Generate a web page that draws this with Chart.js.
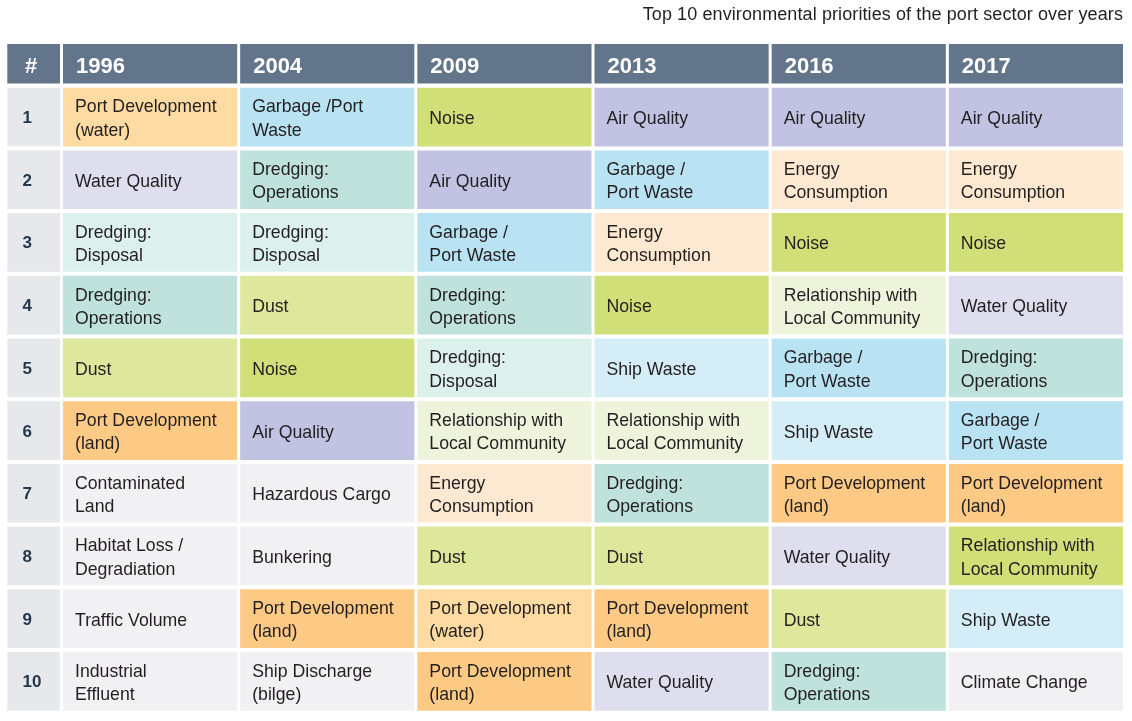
<!DOCTYPE html>
<html>
<head>
<meta charset="utf-8">
<script src="https://cdn.jsdelivr.net/npm/chart.js@4.4.1/dist/chart.umd.min.js"></script>
<style>
  html, body { margin: 0; padding: 0; background: #ffffff; }
  #wrap { width: 1132px; height: 721px; position: relative; }
</style>
</head>
<body>
<div id="wrap"><canvas id="chart" width="1132" height="721"></canvas></div>
<script>
// ---------- data ----------
const chartTitle = 'Top 10 environmental priorities of the port sector over years';
const rankHeader = '#';
const years = ['1996', '2004', '2009', '2013', '2016', '2017'];
const ranks = [1, 2, 3, 4, 5, 6, 7, 8, 9, 10];

const priorities1996 = ['Port Development\n(water)', 'Water Quality', 'Dredging:\nDisposal', 'Dredging:\nOperations', 'Dust',
  'Port Development\n(land)', 'Contaminated\nLand', 'Habitat Loss /\nDegradiation', 'Traffic Volume', 'Industrial\nEffluent'];
const priorities2004 = ['Garbage /Port\nWaste', 'Dredging:\nOperations', 'Dredging:\nDisposal', 'Dust', 'Noise',
  'Air Quality', 'Hazardous Cargo', 'Bunkering', 'Port Development\n(land)', 'Ship Discharge\n(bilge)'];
const priorities2009 = ['Noise', 'Air Quality', 'Garbage /\nPort Waste', 'Dredging:\nOperations', 'Dredging:\nDisposal',
  'Relationship with\nLocal Community', 'Energy\nConsumption', 'Dust', 'Port Development\n(water)', 'Port Development\n(land)'];
const priorities2013 = ['Air Quality', 'Garbage /\nPort Waste', 'Energy\nConsumption', 'Noise', 'Ship Waste',
  'Relationship with\nLocal Community', 'Dredging:\nOperations', 'Dust', 'Port Development\n(land)', 'Water Quality'];
const priorities2016 = ['Air Quality', 'Energy\nConsumption', 'Noise', 'Relationship with\nLocal Community', 'Garbage /\nPort Waste',
  'Ship Waste', 'Port Development\n(land)', 'Water Quality', 'Dust', 'Dredging:\nOperations'];
const priorities2017 = ['Air Quality', 'Energy\nConsumption', 'Noise', 'Water Quality', 'Dredging:\nOperations',
  'Garbage /\nPort Waste', 'Port Development\n(land)', 'Relationship with\nLocal Community', 'Ship Waste', 'Climate Change'];

const columns = [priorities1996, priorities2004, priorities2009, priorities2013, priorities2016, priorities2017];

// ---------- styles ----------
const topicColors = [
  ['Port Development (water)', '#fedba3'],
  ['Port Development (land)', '#fdca86'],
  ['Garbage', '#b9e3f3'],
  ['Water Quality', '#dedeef'],
  ['Air Quality', '#c2c3e3'],
  ['Dredging: Operations', '#bfe3dc'],
  ['Dredging: Disposal', '#dcf0ec'],
  ['Noise', '#d0df78'],
  ['Dust', '#dde89c'],
  ['Energy Consumption', '#fde9d1'],
  ['Relationship with Local Community', '#eef4db'],
  ['Ship Waste', '#d4edf7']
];
const defaultCellColor = '#f1f1f3';
const highlightCells = { '2017|8': '#d0df78' };
const headerColor = '#62758a';
const rankCellColor = '#e6e8eb';
const textColor = '#231f20';
const rankTextColor = '#24384d';
const fontFamily = '"Liberation Sans", Arial, Helvetica, sans-serif';

function cellColor(cell) {
  const key = cell.year + '|' + cell.rank;
  if (highlightCells[key]) return highlightCells[key];
  const t = cell.label.replace(/\s+/g, ' ');
  for (const [prefix, col] of topicColors) {
    if (t.startsWith(prefix)) return col;
  }
  return defaultCellColor;
}

// build cells (one floating bar per table cell) from the named arrays
const cells = [];
years.forEach((yr, c) => {
  columns[c].forEach((label, r) => {
    cells.push({ x: yr, y: [ranks[r] - 0.5, ranks[r] + 0.5], label: label, rank: ranks[r], year: yr });
  });
});

const tablePlugin = {
  id: 'tablePlugin',
  afterDatasetsDraw(chart) {
    const ctx = chart.ctx;
    const ys = chart.scales.y;
    const meta = chart.getDatasetMeta(0);
    ctx.save();

    // title
    ctx.font = '18px ' + fontFamily;
    ctx.fillStyle = textColor;
    ctx.textAlign = 'right';
    ctx.textBaseline = 'alphabetic';
    const w0 = ctx.measureText(chartTitle).width;
    const spacing = (480 - w0) / (chartTitle.length - 1);
    if ('letterSpacing' in ctx) ctx.letterSpacing = spacing.toFixed(2) + 'px';
    ctx.fillText(chartTitle, 1123, 19.5);
    if ('letterSpacing' in ctx) ctx.letterSpacing = '0px';

    // header row
    const headTop = 44, headH = 39.5;
    ctx.fillStyle = headerColor;
    ctx.fillRect(7.3, headTop, 52.7, headH);
    ctx.font = 'bold 22px ' + fontFamily;
    ctx.fillStyle = '#ffffff';
    ctx.textAlign = 'left';
    ctx.fillText(rankHeader, 25, 72.5);

    const perCol = {};
    meta.data.forEach((el, i) => {
      const raw = cells[i];
      const p = el.getProps(['x', 'y', 'base', 'width'], true);
      perCol[raw.year] = p;
    });
    years.forEach(yr => {
      const p = perCol[yr];
      const left = p.x - p.width / 2 + 1.5;
      const right = p.x + p.width / 2 - 1.5;
      ctx.fillStyle = headerColor;
      ctx.fillRect(left, headTop, right - left, headH);
      ctx.fillStyle = '#ffffff';
      ctx.font = 'bold 22px ' + fontFamily;
      ctx.fillText(yr, left + 13, 72.5);
    });

    // rank column
    ranks.forEach(r => {
      const a = ys.getPixelForValue(r - 0.5), b = ys.getPixelForValue(r + 0.5);
      const top = Math.min(a, b) + 2, bot = Math.max(a, b) - 2;
      ctx.fillStyle = rankCellColor;
      ctx.fillRect(7.3, top, 52.7, bot - top);
      ctx.fillStyle = rankTextColor;
      ctx.font = 'bold 17px ' + fontFamily;
      ctx.fillText(String(r), 22.5, (top + bot) / 2 + 6);
    });

    // cell texts
    ctx.font = '17.7px ' + fontFamily;
    ctx.fillStyle = textColor;
    meta.data.forEach((el, i) => {
      const raw = cells[i];
      const p = el.getProps(['x', 'y', 'base', 'width'], true);
      const left = p.x - p.width / 2 + 1.5;
      const cy = (p.y + p.base) / 2;
      const lines = raw.label.split('\n');
      const lh = 23.3;
      lines.forEach((ln, k) => {
        const off = (k - (lines.length - 1) / 2) * lh;
        ctx.fillText(ln, left + 12, cy + 7 + off);
      });
    });
    ctx.restore();
  }
};

new Chart(document.getElementById('chart'), {
  type: 'bar',
  data: {
    labels: years,
    datasets: [{
      label: 'Environmental priorities',
      data: cells,
      backgroundColor: ctx => (ctx.raw ? cellColor(ctx.raw) : defaultCellColor),
      borderColor: '#ffffff',
      borderWidth: { top: 2, bottom: 2, left: 1.5, right: 1.5 },
      borderSkipped: false,
      inflateAmount: 0,
      barPercentage: 1,
      categoryPercentage: 1
    }]
  },
  options: {
    responsive: false,
    devicePixelRatio: 1,
    animation: false,
    layout: { padding: { left: 61.5, right: 7.5, top: 85.7, bottom: 8.3 } },
    plugins: { legend: { display: false }, tooltip: { enabled: false }, title: { display: false } },
    scales: {
      x: { type: 'category', display: false, offset: true },
      y: { type: 'linear', display: false, reverse: true, min: 0.5, max: 10.5 }
    }
  },
  plugins: [tablePlugin]
});
</script>
</body>
</html>
